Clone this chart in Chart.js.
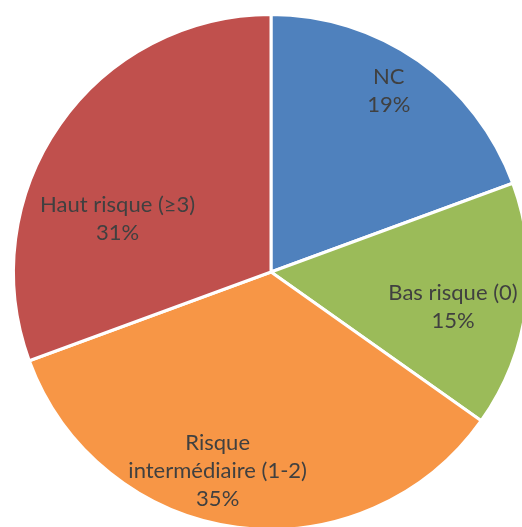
<!DOCTYPE html>
<html>
<head>
<meta charset="utf-8">
<script src="https://cdn.jsdelivr.net/npm/chart.js@4"></script>
<style>
  html, body { margin: 0; padding: 0; background: #fff; overflow: hidden; }
  #wrap { position: absolute; left: 0; top: 0; width: 545px; height: 547px; }
</style>
</head>
<body>
<div id="wrap"><canvas id="pieChart"></canvas></div>
<script>
// data (labels show rounded percentages)
const categories = ['NC', 'Bas risque (0)', 'Risque intermédiaire (1-2)', 'Haut risque (≥3)'];
const labelLines = [['NC'], ['Bas risque (0)'], ['Risque', 'intermédiaire (1-2)'], ['Haut risque (≥3)']];
const shares = [19.4, 15.4, 34.6, 30.6];
const colors = ['#4F81BD', '#9BBB59', '#F79646', '#C0504D'];

// where each label sits: angle (deg, clockwise from top) and fraction of radius
const labelAngle = [33, 101, 195, 289];
const labelDist = [0.84, 0.72, 0.80, 0.63];

const sliceLabels = {
    id: 'sliceLabels',
    afterDatasetsDraw(chart) {
        const ctx = chart.ctx;
        const arcs = chart.getDatasetMeta(0).data;
        const total = shares.reduce((a, b) => a + b, 0);
        ctx.save();
        ctx.font = '22px Lato';
        ctx.fillStyle = '#404040';
        ctx.textAlign = 'center';
        ctx.textBaseline = 'middle';
        const lh = 28;
        arcs.forEach((arc, i) => {
            const a = (labelAngle[i] - 90) * Math.PI / 180;
            const r = arc.outerRadius * labelDist[i];
            const cx = arc.x + Math.cos(a) * r;
            const cy = arc.y + Math.sin(a) * r;
            const lines = labelLines[i].concat([Math.round(shares[i] / total * 100) + '%']);
            const y0 = cy - (lines.length - 1) * lh / 2;
            lines.forEach((t, k) => ctx.fillText(t, cx, y0 + k * lh));
        });
        ctx.restore();
    }
};

const canvas = document.getElementById('pieChart');
const ctx = canvas.getContext('2d');

const pieChart = new Chart(ctx, {
    type: 'pie',
    data: {
        labels: categories,
        datasets: [{
            data: shares,
            backgroundColor: colors,
            borderColor: '#ffffff',
            borderWidth: 3
        }]
    },
    options: {
        responsive: true,
        maintainAspectRatio: false,
        animation: false,
        layout: { padding: { left: 11, top: 13, right: 14, bottom: 16 } },
        plugins: {
            legend: { display: false },
            tooltip: { enabled: false }
        }
    },
    plugins: [sliceLabels]
});
</script>
</body>
</html>
